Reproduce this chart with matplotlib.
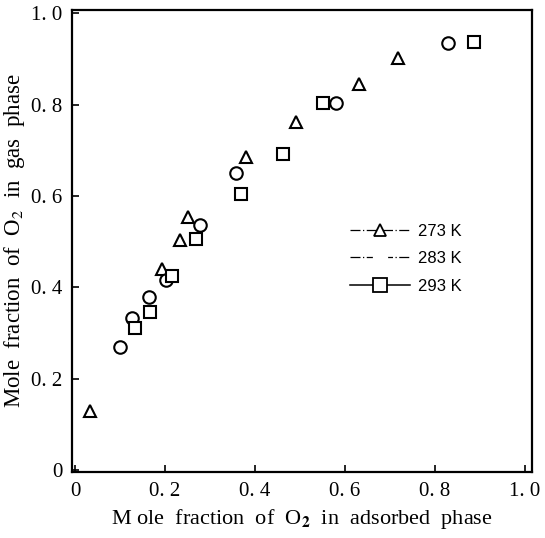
import matplotlib
matplotlib.use("Agg")
from matplotlib import pyplot as plt

# 273 K (triangles)
x_273 = [0.033, 0.193, 0.233, 0.252, 0.381, 0.491, 0.632, 0.718]
y_273 = [0.130, 0.439, 0.503, 0.554, 0.686, 0.762, 0.846, 0.903]
# 283 K (circles)
x_283 = [0.100, 0.126, 0.164, 0.202, 0.278, 0.357, 0.580, 0.830]
y_283 = [0.270, 0.332, 0.379, 0.416, 0.536, 0.650, 0.804, 0.934]
# 293 K (squares)
x_293 = [0.133, 0.167, 0.215, 0.270, 0.370, 0.463, 0.552, 0.887]
y_293 = [0.311, 0.346, 0.424, 0.505, 0.604, 0.691, 0.804, 0.937]

x_ticks = [0, 0.2, 0.4, 0.6, 0.8, 1.0]
x_ticklabels = ["0", "0. 2", "0. 4", "0. 6", "0. 8", "1. 0"]
y_ticks = [0, 0.2, 0.4, 0.6, 0.8, 1.0]
y_ticklabels = ["0", "0. 2", "0. 4", "0. 6", "0. 8", "1. 0"]

plt.rcParams['font.family'] = ['Liberation Serif', 'DejaVu Serif']
plt.rcParams['mathtext.fontset'] = 'stix'

fig = plt.figure(figsize=(5.45, 5.38), dpi=100)
ax = fig.add_axes([0.132, 0.123, 0.844, 0.858])

mk = dict(linestyle='none', markerfacecolor='white', markeredgecolor='black',
          markeredgewidth=1.5, markersize=9)
ax.plot(x_273, y_273, marker='^', **mk)
ax.plot(x_283, y_283, marker='o', **mk)
ax.plot(x_293, y_293, marker='s', **mk)

# legend handles: line + marker
h1, = ax.plot([], [], color='black', lw=0.9, linestyle=(0, (8, 2, 1, 2)),
              marker='^', markerfacecolor='white', markeredgecolor='black',
              markeredgewidth=1.3, markersize=9)
h2, = ax.plot([], [], color='black', lw=0.9, linestyle=(0, (8, 2, 1, 2)),
              marker='o', markerfacecolor='white', markeredgecolor='white',
              markersize=10)
h3, = ax.plot([], [], color='black', lw=1.1, linestyle='-',
              marker='s', markerfacecolor='white', markeredgecolor='black',
              markeredgewidth=1.3, markersize=10)
leg = ax.legend([h1, h2, h3], ["273 K", "283 K", "293 K"], loc='upper left',
                bbox_to_anchor=(0.572, 0.57), frameon=False, handlelength=3.6,
                handletextpad=0.45, labelspacing=0.75,
                prop={'family': 'Liberation Sans', 'size': 12})

ax.set_xlim(-0.0067, 1.0156)
ax.set_ylim(-0.004, 1.0066)
ax.set_xticks(x_ticks)
ax.set_xticklabels(x_ticklabels)
ax.set_yticks(y_ticks)
ax.set_yticklabels(y_ticklabels)
ax.tick_params(direction='in', length=5, width=1.2, labelsize=15, pad=7)

for s in ax.spines.values():
    s.set_linewidth(1.6)

ax.set_xlabel("M ole  fraction  of  O$_\\mathbf{2}$  in  adsorbed  phase", fontsize=16, labelpad=5)
ax.set_ylabel("Mole  fraction  of  O$_2$  in  gas  phase", fontsize=16.5)
ax.yaxis.set_label_coords(-0.098, 0.5)

fig.savefig("out.png", dpi=100)
